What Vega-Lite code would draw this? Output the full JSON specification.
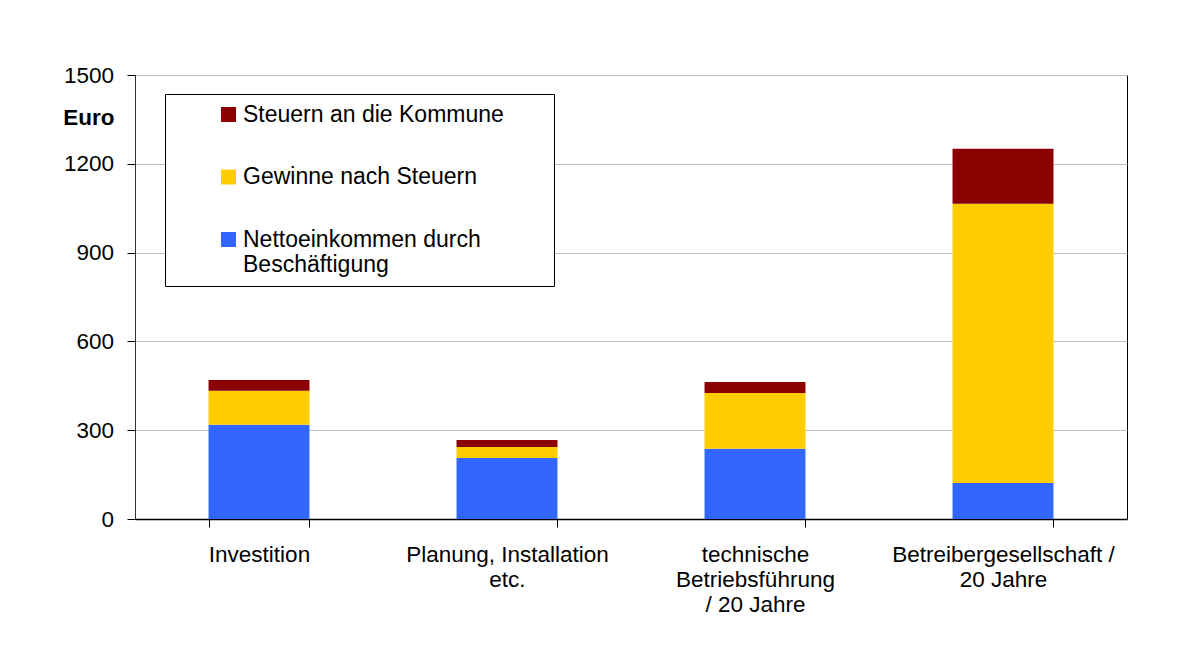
{
  "$schema": "https://vega.github.io/schema/vega-lite/v6.json",
  "width": 992,
  "height": 444,
  "autosize": {"type": "none"},
  "padding": {"left": 135, "top": 75, "right": 56, "bottom": 149},
  "background": "white",
  "config": {
    "font": "Liberation Sans",
    "view": {"stroke": "black", "strokeWidth": 1}
  },
  "data": {
    "values": [
      {"kategorie": "Investition", "serie": "Nettoeinkommen durch Beschäftigung", "euro": 318},
      {"kategorie": "Investition", "serie": "Gewinne nach Steuern", "euro": 115},
      {"kategorie": "Investition", "serie": "Steuern an die Kommune", "euro": 37},
      {"kategorie": "Planung, Installation etc.", "serie": "Nettoeinkommen durch Beschäftigung", "euro": 206},
      {"kategorie": "Planung, Installation etc.", "serie": "Gewinne nach Steuern", "euro": 37},
      {"kategorie": "Planung, Installation etc.", "serie": "Steuern an die Kommune", "euro": 24},
      {"kategorie": "technische Betriebsführung / 20 Jahre", "serie": "Nettoeinkommen durch Beschäftigung", "euro": 237},
      {"kategorie": "technische Betriebsführung / 20 Jahre", "serie": "Gewinne nach Steuern", "euro": 189},
      {"kategorie": "technische Betriebsführung / 20 Jahre", "serie": "Steuern an die Kommune", "euro": 37},
      {"kategorie": "Betreibergesellschaft / 20 Jahre", "serie": "Nettoeinkommen durch Beschäftigung", "euro": 122},
      {"kategorie": "Betreibergesellschaft / 20 Jahre", "serie": "Gewinne nach Steuern", "euro": 943},
      {"kategorie": "Betreibergesellschaft / 20 Jahre", "serie": "Steuern an die Kommune", "euro": 186}
    ]
  },
  "transform": [
    {"calculate": "indexof(['Nettoeinkommen durch Beschäftigung', 'Gewinne nach Steuern', 'Steuern an die Kommune'], datum.serie)", "as": "stapel"}
  ],
  "mark": {"type": "bar"},
  "encoding": {
    "x": {
      "field": "kategorie",
      "type": "nominal",
      "sort": null,
      "scale": {"paddingInner": 0.593, "paddingOuter": 0.2965},
      "axis": {
        "title": null,
        "labelAngle": 0,
        "tickBand": "extent",
        "tickSize": 8,
        "tickColor": "black",
        "domainColor": "black",
        "domainWidth": 1.5,
        "labelPadding": 16,
        "labelFontSize": 22.5,
        "labelColor": "black",
        "labelLineHeight": 25,
        "labelBaseline": "top",
        "labelLimit": 400,
        "grid": false,
        "labelExpr": "datum.label == 'Planung, Installation etc.' ? ['Planung, Installation', 'etc.'] : datum.label == 'technische Betriebsführung / 20 Jahre' ? ['technische', 'Betriebsführung', '/ 20 Jahre'] : datum.label == 'Betreibergesellschaft / 20 Jahre' ? ['Betreibergesellschaft /', '20 Jahre'] : datum.label"
      }
    },
    "y": {
      "field": "euro",
      "type": "quantitative",
      "stack": "zero",
      "scale": {"domain": [0, 1500], "nice": false},
      "axis": {
        "values": [0, 300, 600, 900, 1200, 1500],
        "format": "d",
        "tickSize": 8,
        "tickColor": "black",
        "domainColor": "#333333",
        "labelPadding": 13.5,
        "labelFontSize": 22.5,
        "labelColor": "black",
        "grid": true,
        "gridColor": "#c0c0c0",
        "title": "Euro",
        "titleAngle": 0,
        "titleFontSize": 22.5,
        "titleFontWeight": "bold",
        "titleColor": "black",
        "titleAlign": "right",
        "titleBaseline": "middle",
        "titleX": -21,
        "titleY": 42
      }
    },
    "color": {
      "field": "serie",
      "type": "nominal",
      "scale": {
        "domain": ["Steuern an die Kommune", "Gewinne nach Steuern", "Nettoeinkommen durch Beschäftigung"],
        "range": ["#8B0000", "#FFCC00", "#3366FF"]
      },
      "legend": {
        "orient": "none",
        "legendX": 30,
        "legendY": 19,
        "title": null,
        "symbolType": "square",
        "symbolSize": 225,
        "symbolStrokeWidth": 0,
        "symbolOffset": 43,
        "labelOffset": 3,
        "labelFontSize": 23,
        "labelColor": "black",
        "labelLimit": 500,
        "labelLineHeight": 25,
        "padding": 9,
        "rowPadding": 38.5,
        "strokeColor": "black",
        "fillColor": "white",
        "labelExpr": "datum.label == 'Nettoeinkommen durch Beschäftigung' ? ['Nettoeinkommen durch', 'Beschäftigung'] : datum.label == 'Steuern an die Kommune' ? 'Steuern an die Kommune\u2800\u00a0\u2800' : datum.label"
      }
    },
    "order": {"field": "stapel", "type": "quantitative"}
  }
}
